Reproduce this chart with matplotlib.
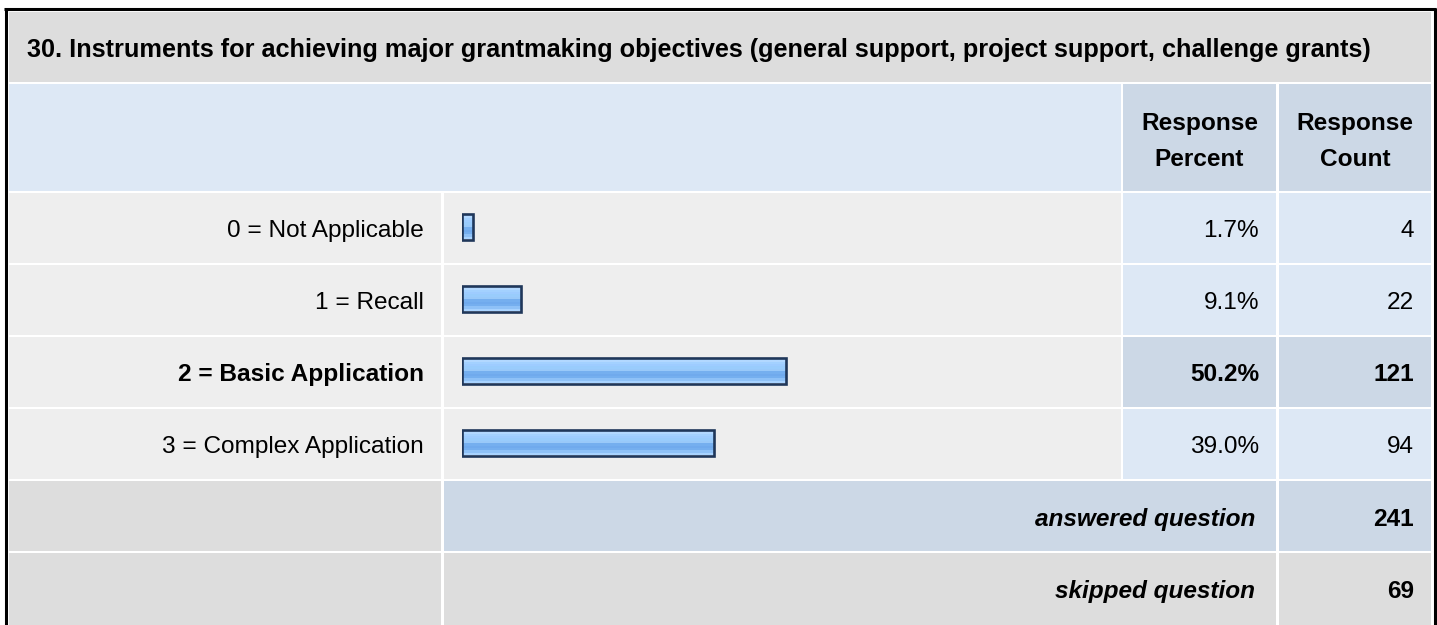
import numpy as np
import matplotlib
matplotlib.use("Agg")
import matplotlib.pyplot as plt
from matplotlib.patches import Rectangle

plt.rcParams['font.family'] = ['Liberation Sans', 'DejaVu Sans']

# data
title = "30. Instruments for achieving major grantmaking objectives (general support, project support, challenge grants)"
labels = ["0 = Not Applicable", "1 = Recall", "2 = Basic Application", "3 = Complex Application"]
percents = [1.7, 9.1, 50.2, 39.0]
counts = [4, 22, 121, 94]
answered = 241
skipped = 69

W, H = 1437, 625
fig = plt.figure(figsize=(W / 100, H / 100), dpi=100)
bg = fig.add_axes([0, 0, 1, 1])
bg.set_xlim(0, W)
bg.set_ylim(H, 0)
bg.axis('off')

GRAY = '#dddddd'
ROW = '#eeeeee'
LBLUE = '#dde8f5'
DBLUE = '#ccd8e6'
FS = 17.6


def cell(x0, x1, y0, y1, color):
    bg.add_patch(Rectangle((x0, y0), x1 - x0, y1 - y0, facecolor=color, edgecolor='none'))


# outer frame
bg.plot([5.5, 5.5], [8, H], color='black', lw=2.2, solid_capstyle='butt')
bg.plot([4, 1436], [8.5, 8.5], color='black', lw=2.2, solid_capstyle='butt')
bg.plot([1434.5, 1434.5], [8, H], color='black', lw=2.2, solid_capstyle='butt')

# columns
c_lab = (9, 441)
c_bar = (444, 1121)
c_pct = (1123, 1276)
c_cnt = (1279, 1431)

# title
cell(9, 1431, 12, 82, GRAY)
bg.text(27, 57, title, fontsize=18.2, fontweight='bold', ha='left', va='baseline')

# header
cell(9, 1121, 84, 191, LBLUE)
cell(*c_pct, 84, 191, DBLUE)
cell(*c_cnt, 84, 191, DBLUE)
for cx, second in [(sum(c_pct) / 2, "Percent"), (sum(c_cnt) / 2, "Count")]:
    bg.text(cx, 130, "Response", fontsize=FS, fontweight='bold', ha='center', va='baseline')
    bg.text(cx, 166, second, fontsize=FS, fontweight='bold', ha='center', va='baseline')

row_tops = [193 + 72 * i for i in range(6)]
row_h = 70
base = 44
best = int(np.argmax(percents))

for i, (lab, p, c) in enumerate(zip(labels, percents, counts)):
    y0 = row_tops[i]
    yb = y0 + base
    hl = i == best
    cell(*c_lab, y0, y0 + row_h, ROW)
    cell(*c_bar, y0, y0 + row_h, ROW)
    cell(*c_pct, y0, y0 + row_h, DBLUE if hl else LBLUE)
    cell(*c_cnt, y0, y0 + row_h, DBLUE if hl else LBLUE)
    w = 'bold' if hl else 'normal'
    bg.text(424, yb, lab, fontsize=FS, fontweight=w, ha='right', va='baseline')
    bg.text(1259, yb, f"{p:.1f}%", fontsize=FS, fontweight=w, ha='right', va='baseline')
    bg.text(1414, yb, str(c), fontsize=FS, fontweight=w, ha='right', va='baseline')

# summary rows
for j, (txt, val, mid) in enumerate([("answered question", answered, DBLUE),
                                      ("skipped question", skipped, GRAY)]):
    y0 = row_tops[4 + j]
    yb = y0 + base + 1
    y1 = y0 + row_h if j == 0 else H
    cell(*c_lab, y0, y1, GRAY)
    cell(c_bar[0], c_pct[1], y0, y1, mid)
    cell(*c_cnt, y0, y1, mid)
    bg.text(1255, yb, txt, fontsize=FS, fontweight='bold', style='italic', ha='right', va='baseline')
    bg.text(1414, yb, str(val), fontsize=FS, fontweight='bold', ha='right', va='baseline')

# bars: x in percent, y in pixel rows
scale = 6.45
bax = fig.add_axes([462 / W, 0, 100 * scale / W, 1])
bax.set_xlim(0, 100)
bax.set_ylim(H, 0)
bax.axis('off')
bax.patch.set_alpha(0)

centers = [row_tops[i] + row_h / 2 - 1.5 for i in range(len(percents))]
grad = np.array([
    [0.80, 0.89, 1.00], [0.70, 0.85, 1.00], [0.64, 0.82, 1.00], [0.62, 0.80, 1.00],
    [0.60, 0.80, 0.99], [0.60, 0.79, 0.98], [0.46, 0.69, 0.94], [0.44, 0.67, 0.93],
    [0.46, 0.69, 0.94], [0.56, 0.76, 0.97], [0.66, 0.83, 1.00],
])
bars = bax.barh(centers, percents, height=26, facecolor='none',
                edgecolor='#1f375a', linewidth=1.9, zorder=3)
for b in bars:
    im = bax.imshow(grad[:, None, :], aspect='auto', interpolation='nearest',
                    extent=(b.get_x(), b.get_x() + b.get_width(), b.get_y() + b.get_height(), b.get_y()),
                    zorder=2)
    im.set_clip_path(b)
bax.set_xlim(0, 100)
bax.set_ylim(H, 0)

fig.savefig('out.png', dpi=100)
